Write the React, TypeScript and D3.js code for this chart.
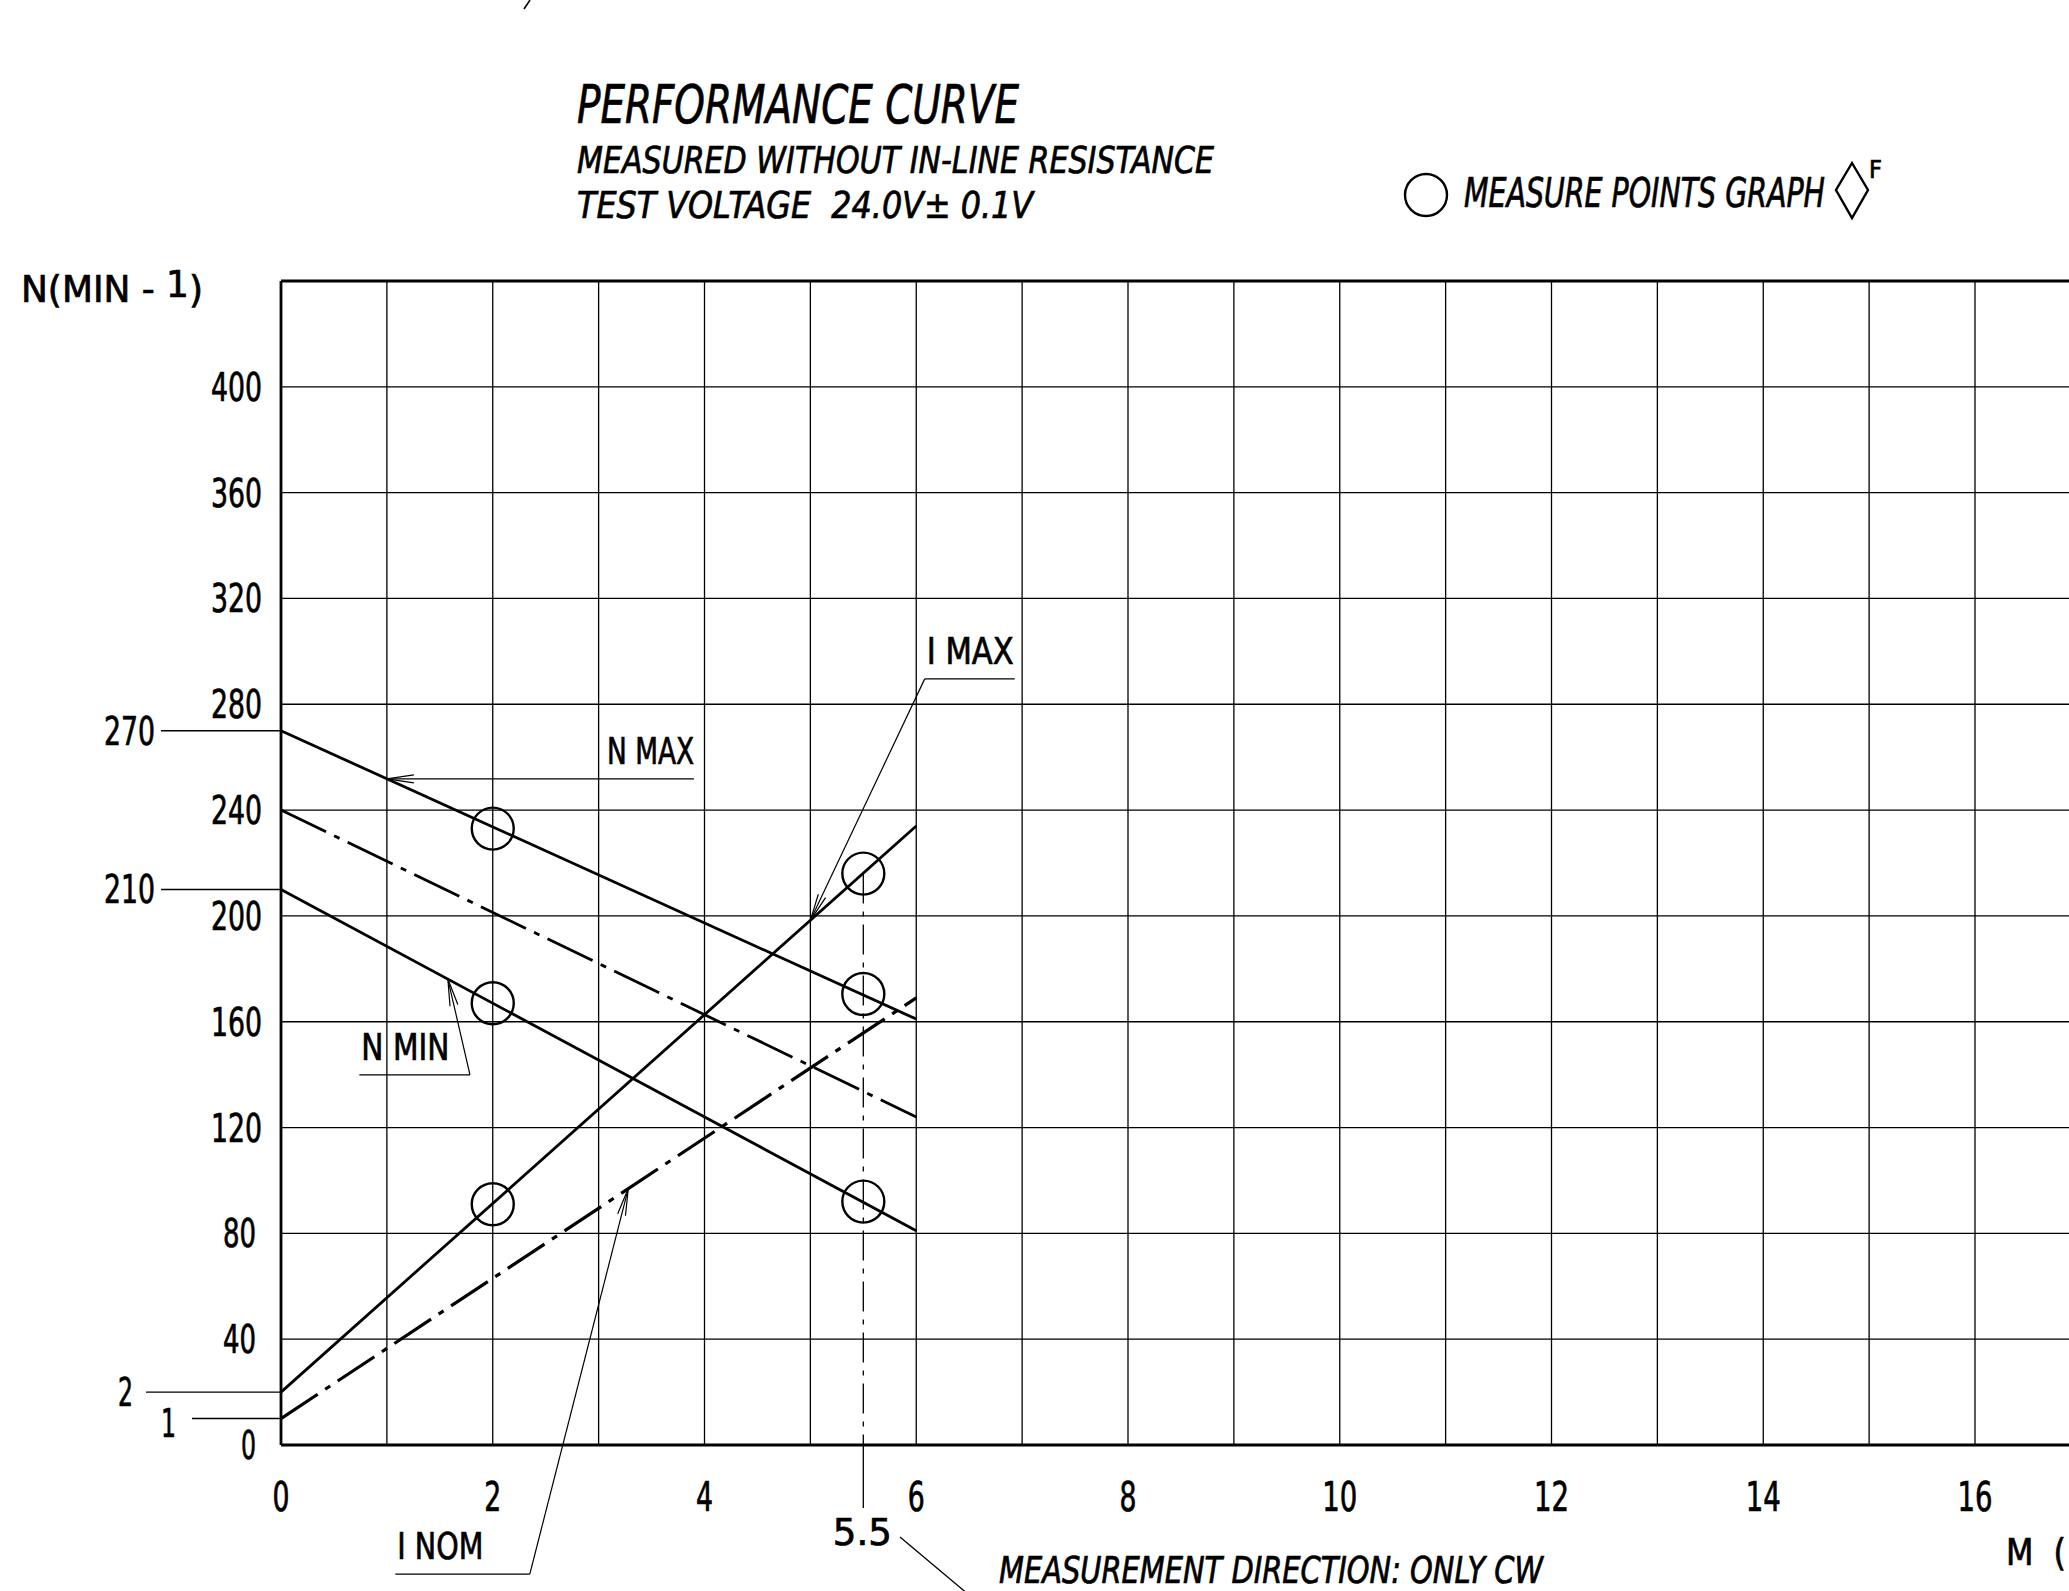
import React from 'react';
import * as d3 from 'd3';

// ---- chart data ----
const X_TICKS = [0, 2, 4, 6, 8, 10, 12, 14, 16];
const X_GRID = d3.range(0, 19, 1);
const Y_TICKS = [0, 40, 80, 120, 160, 200, 240, 280, 320, 360, 400];
const N_MARKS = [270, 210];
const I_MARKS = [2, 1];

const N_MAX = [{ m: 0, v: 270 }, { m: 6, v: 161 }];
const N_NOM = [{ m: 0, v: 240 }, { m: 6, v: 124 }];
const N_MIN = [{ m: 0, v: 210 }, { m: 6, v: 81 }];
const I_MAX = [{ m: 0, v: 2 }, { m: 6, v: 23.4 }];
const I_NOM = [{ m: 0, v: 1 }, { m: 6, v: 16.9 }];

// measure points: axis 'n' = speed, 'i' = current
const MEASURE_POINTS = [
  { m: 2, v: 233, axis: 'n' },
  { m: 2, v: 167, axis: 'n' },
  { m: 2, v: 9.1, axis: 'i' },
  { m: 5.5, v: 21.6, axis: 'i' },
  { m: 5.5, v: 170.5, axis: 'n' },
  { m: 5.5, v: 92, axis: 'n' },
];
const MEASURE_M = 5.5;

const FONT = '"Liberation Sans Narrow", "DejaVu Sans Condensed", "Liberation Sans", "DejaVu Sans", Arial, sans-serif';

const W = 2069;
const H = 1591;

const x = d3.scaleLinear().domain([0, 16]).range([281, 1975]);
const y = d3.scaleLinear().domain([0, 440]).range([1445, 281]);
const yi = d3.scaleLinear().domain([0, 44]).range([1445, 281]);

const interp = (pts: { m: number; v: number }[], m: number) => {
  const t = (m - pts[0].m) / (pts[1].m - pts[0].m);
  return pts[0].v + t * (pts[1].v - pts[0].v);
};

const lineN = d3.line<{ m: number; v: number }>().x(d => x(d.m)).y(d => y(d.v));
const lineI = d3.line<{ m: number; v: number }>().x(d => x(d.m)).y(d => yi(d.v));

// open arrow head, tip at (tx,ty) pointing away from (fx,fy)
const arrow = (tx: number, ty: number, fx: number, fy: number) => {
  const a = Math.atan2(ty - fy, tx - fx);
  const L = 27, hw = 4;
  const bx = tx - L * Math.cos(a), by = ty - L * Math.sin(a);
  const px = -Math.sin(a) * hw, py = Math.cos(a) * hw;
  return `M${bx + px},${by + py}L${tx},${ty}L${bx - px},${by - py}`;
};

// annotation labels with leaders (positions in data units)
const LABELS = [
  { text: 'N MAX', series: N_MAX, axis: 'n', anchorM: 1, lineN: null as number | null, fromM: 3.08, toM: 3.9, len: 87, leaderAt: 'start' },
  { text: 'I MAX', series: I_MAX, axis: 'i', anchorM: 5, lineN: 289.6, fromM: 6.08, toM: 6.93, len: 87, leaderAt: 'start' },
  { text: 'N MIN', series: N_MIN, axis: 'n', anchorM: 1.576, lineN: 139.9, fromM: 0.74, toM: 1.785, len: 88, leaderAt: 'end' },
  { text: 'I NOM', series: I_NOM, axis: 'i', anchorM: 3.28, lineN: -48.8, fromM: 1.08, toM: 2.35, len: 86, leaderAt: 'end' },
];

// CAD-like text: filled plus a thin outline to get the heavier stroke look
const T: React.CSSProperties = { fontFamily: FONT, fill: '#000', stroke: '#000', strokeWidth: 0.7, whiteSpace: 'pre' };

export default function App() {
  const frameRight = W + 20;
  return (
    <div style={{ position: 'absolute', left: 0, top: 0, width: W, height: H, overflow: 'hidden', background: '#fff' }}>
      <svg width={W} height={H} style={{ display: 'block' }}>
        <rect width={W} height={H} fill="#fff" />

        {/* stray fragment at top edge */}
        <path d="M530,0L524,9" stroke="#000" strokeWidth={1.6} fill="none" />

        {/* titles */}
        <text x={577} y={123} fontSize={53} fontStyle="italic" textLength={442} lengthAdjust="spacingAndGlyphs" style={T}>PERFORMANCE CURVE</text>
        <text x={577} y={173} fontSize={38} fontStyle="italic" textLength={637} lengthAdjust="spacingAndGlyphs" style={T}>MEASURED WITHOUT IN-LINE RESISTANCE</text>
        <text x={577} y={218} fontSize={38} fontStyle="italic" textLength={456} lengthAdjust="spacingAndGlyphs" style={T}>{'TEST VOLTAGE  24.0V\u00b1 0.1V'}</text>

        {/* legend */}
        <circle cx={1426} cy={195} r={21} fill="none" stroke="#000" strokeWidth={2.4} />
        <text x={1464} y={207} fontSize={40} fontStyle="italic" textLength={361} lengthAdjust="spacingAndGlyphs" style={T}>MEASURE POINTS GRAPH</text>
        <path d="M1852,163L1868,190L1852,218L1836,190Z" fill="none" stroke="#000" strokeWidth={2.4} />
        <text x={1869} y={178} fontSize={25} style={T}>F</text>

        {/* y axis title */}
        <text x={21} y={302} fontSize={38} textLength={182} lengthAdjust="spacingAndGlyphs" style={T}>
          {'N(MIN - '}<tspan dy={-5}>1</tspan><tspan dy={5}>)</tspan>
        </text>

        {/* grid */}
        <g stroke="#000" strokeWidth={1.3}>
          {X_GRID.filter(m => m > 0).map(m => (
            <line key={'gx' + m} x1={x(m)} x2={x(m)} y1={y(440)} y2={y(0)} />
          ))}
          {Y_TICKS.filter(v => v > 0).map(v => (
            <line key={'gy' + v} x1={x(0)} x2={frameRight} y1={y(v)} y2={y(v)} />
          ))}
        </g>

        {/* frame */}
        <g stroke="#000" strokeWidth={2.8} fill="none">
          <line x1={x(0)} x2={frameRight} y1={y(440)} y2={y(440)} />
          <line x1={x(0)} x2={frameRight} y1={y(0)} y2={y(0)} />
          <line x1={x(0)} x2={x(0)} y1={y(440)} y2={y(0)} />
        </g>

        {/* y tick labels */}
        {Y_TICKS.map(v => {
          const s = String(v);
          return (
            <text key={'yl' + v} x={v >= 100 ? 262 : 256} y={y(v) + 14} fontSize={39} textAnchor="end"
              textLength={18 * s.length - 3} lengthAdjust="spacingAndGlyphs" style={T}>{s}</text>
          );
        })}

        {/* x tick labels */}
        {X_TICKS.map(m => {
          const s = String(m);
          return (
            <text key={'xl' + m} x={x(m)} y={1511} fontSize={40} textAnchor="middle"
              textLength={18 * s.length - 1} lengthAdjust="spacingAndGlyphs" style={T}>{s}</text>
          );
        })}

        {/* extra speed marks */}
        {N_MARKS.map(v => (
          <g key={'nm' + v}>
            <line x1={161} x2={x(0)} y1={y(v)} y2={y(v)} stroke="#000" strokeWidth={1.4} />
            <text x={155} y={y(v) + 14} fontSize={39} textAnchor="end" textLength={51} lengthAdjust="spacingAndGlyphs" style={T}>{v}</text>
          </g>
        ))}
        {/* current marks */}
        {I_MARKS.map(v => (
          <g key={'im' + v}>
            <line x1={v === 2 ? 146 : 192} x2={x(0)} y1={yi(v)} y2={yi(v)} stroke="#000" strokeWidth={1.4} />
            <text x={v === 2 ? 133 : 176} y={yi(v) + (v === 2 ? 14 : 18)} fontSize={39} textAnchor="end" textLength={15} lengthAdjust="spacingAndGlyphs" style={T}>{v}</text>
          </g>
        ))}

        {/* measurement vertical at 5.5 */}
        <line x1={x(MEASURE_M)} x2={x(MEASURE_M)} y1={yi(MEASURE_POINTS[3].v)} y2={y(0)}
          stroke="#000" strokeWidth={1.3} strokeDasharray="30,8,5,8" />
        <line x1={x(MEASURE_M)} x2={x(MEASURE_M)} y1={y(0)} y2={1508} stroke="#000" strokeWidth={1.3} />
        <text x={x(MEASURE_M) - 1} y={1545} fontSize={38} textAnchor="middle" textLength={59} lengthAdjust="spacingAndGlyphs" style={T}>5.5</text>
        <line x1={900} y1={1537} x2={975} y2={1600} stroke="#000" strokeWidth={1.3} />
        <text x={999} y={1583} fontSize={37} fontStyle="italic" textLength={544} lengthAdjust="spacingAndGlyphs" style={T}>MEASUREMENT DIRECTION: ONLY CW</text>
        <text x={2006} y={1565} fontSize={38} style={T} textLength={60} lengthAdjust="spacingAndGlyphs">{'M  ('}</text>

        {/* curves */}
        <g fill="none" stroke="#000" strokeWidth={2.8}>
          <path d={lineN(N_MAX) || ''} />
          <path d={lineN(N_MIN) || ''} />
          <path d={lineN(N_NOM) || ''} strokeDasharray="50,9,6,9" />
          <path d={lineI(I_MAX) || ''} />
          <path d={lineI(I_NOM) || ''} strokeWidth={3.2} strokeDasharray="44,9,6,9" />
        </g>

        {/* measure points */}
        {MEASURE_POINTS.map((p, i) => (
          <circle key={'mp' + i} cx={x(p.m)} cy={p.axis === 'n' ? y(p.v) : yi(p.v)} r={21}
            fill="none" stroke="#000" strokeWidth={2.4} />
        ))}

        {/* annotation leaders */}
        {LABELS.map(l => {
          const ax = x(l.anchorM);
          const av = interp(l.series, l.anchorM);
          const ay = l.axis === 'n' ? y(av) : yi(av);
          const uy = l.lineN === null ? ay : y(l.lineN);
          const ux1 = x(l.fromM), ux2 = x(l.toM);
          const lx = l.lineN === null ? ax : (l.leaderAt === 'start' ? ux1 : ux2);
          return (
            <g key={l.text}>
              <g stroke="#000" strokeWidth={1.2} fill="none">
                {l.lineN === null
                  ? <line x1={ax} x2={ux2} y1={uy} y2={uy} />
                  : <>
                      <line x1={ux1} x2={ux2} y1={uy} y2={uy} />
                      <line x1={lx} y1={uy} x2={ax} y2={ay} />
                    </>}
                <path d={arrow(ax, ay, l.lineN === null ? ux2 : lx, uy)} />
              </g>
              <text x={ux1 + (l.lineN === null ? 0 : 2)} y={uy - 15} fontSize={37}
                textLength={l.len} lengthAdjust="spacingAndGlyphs" style={T}>{l.text}</text>
            </g>
          );
        })}
      </svg>
    </div>
  );
}
